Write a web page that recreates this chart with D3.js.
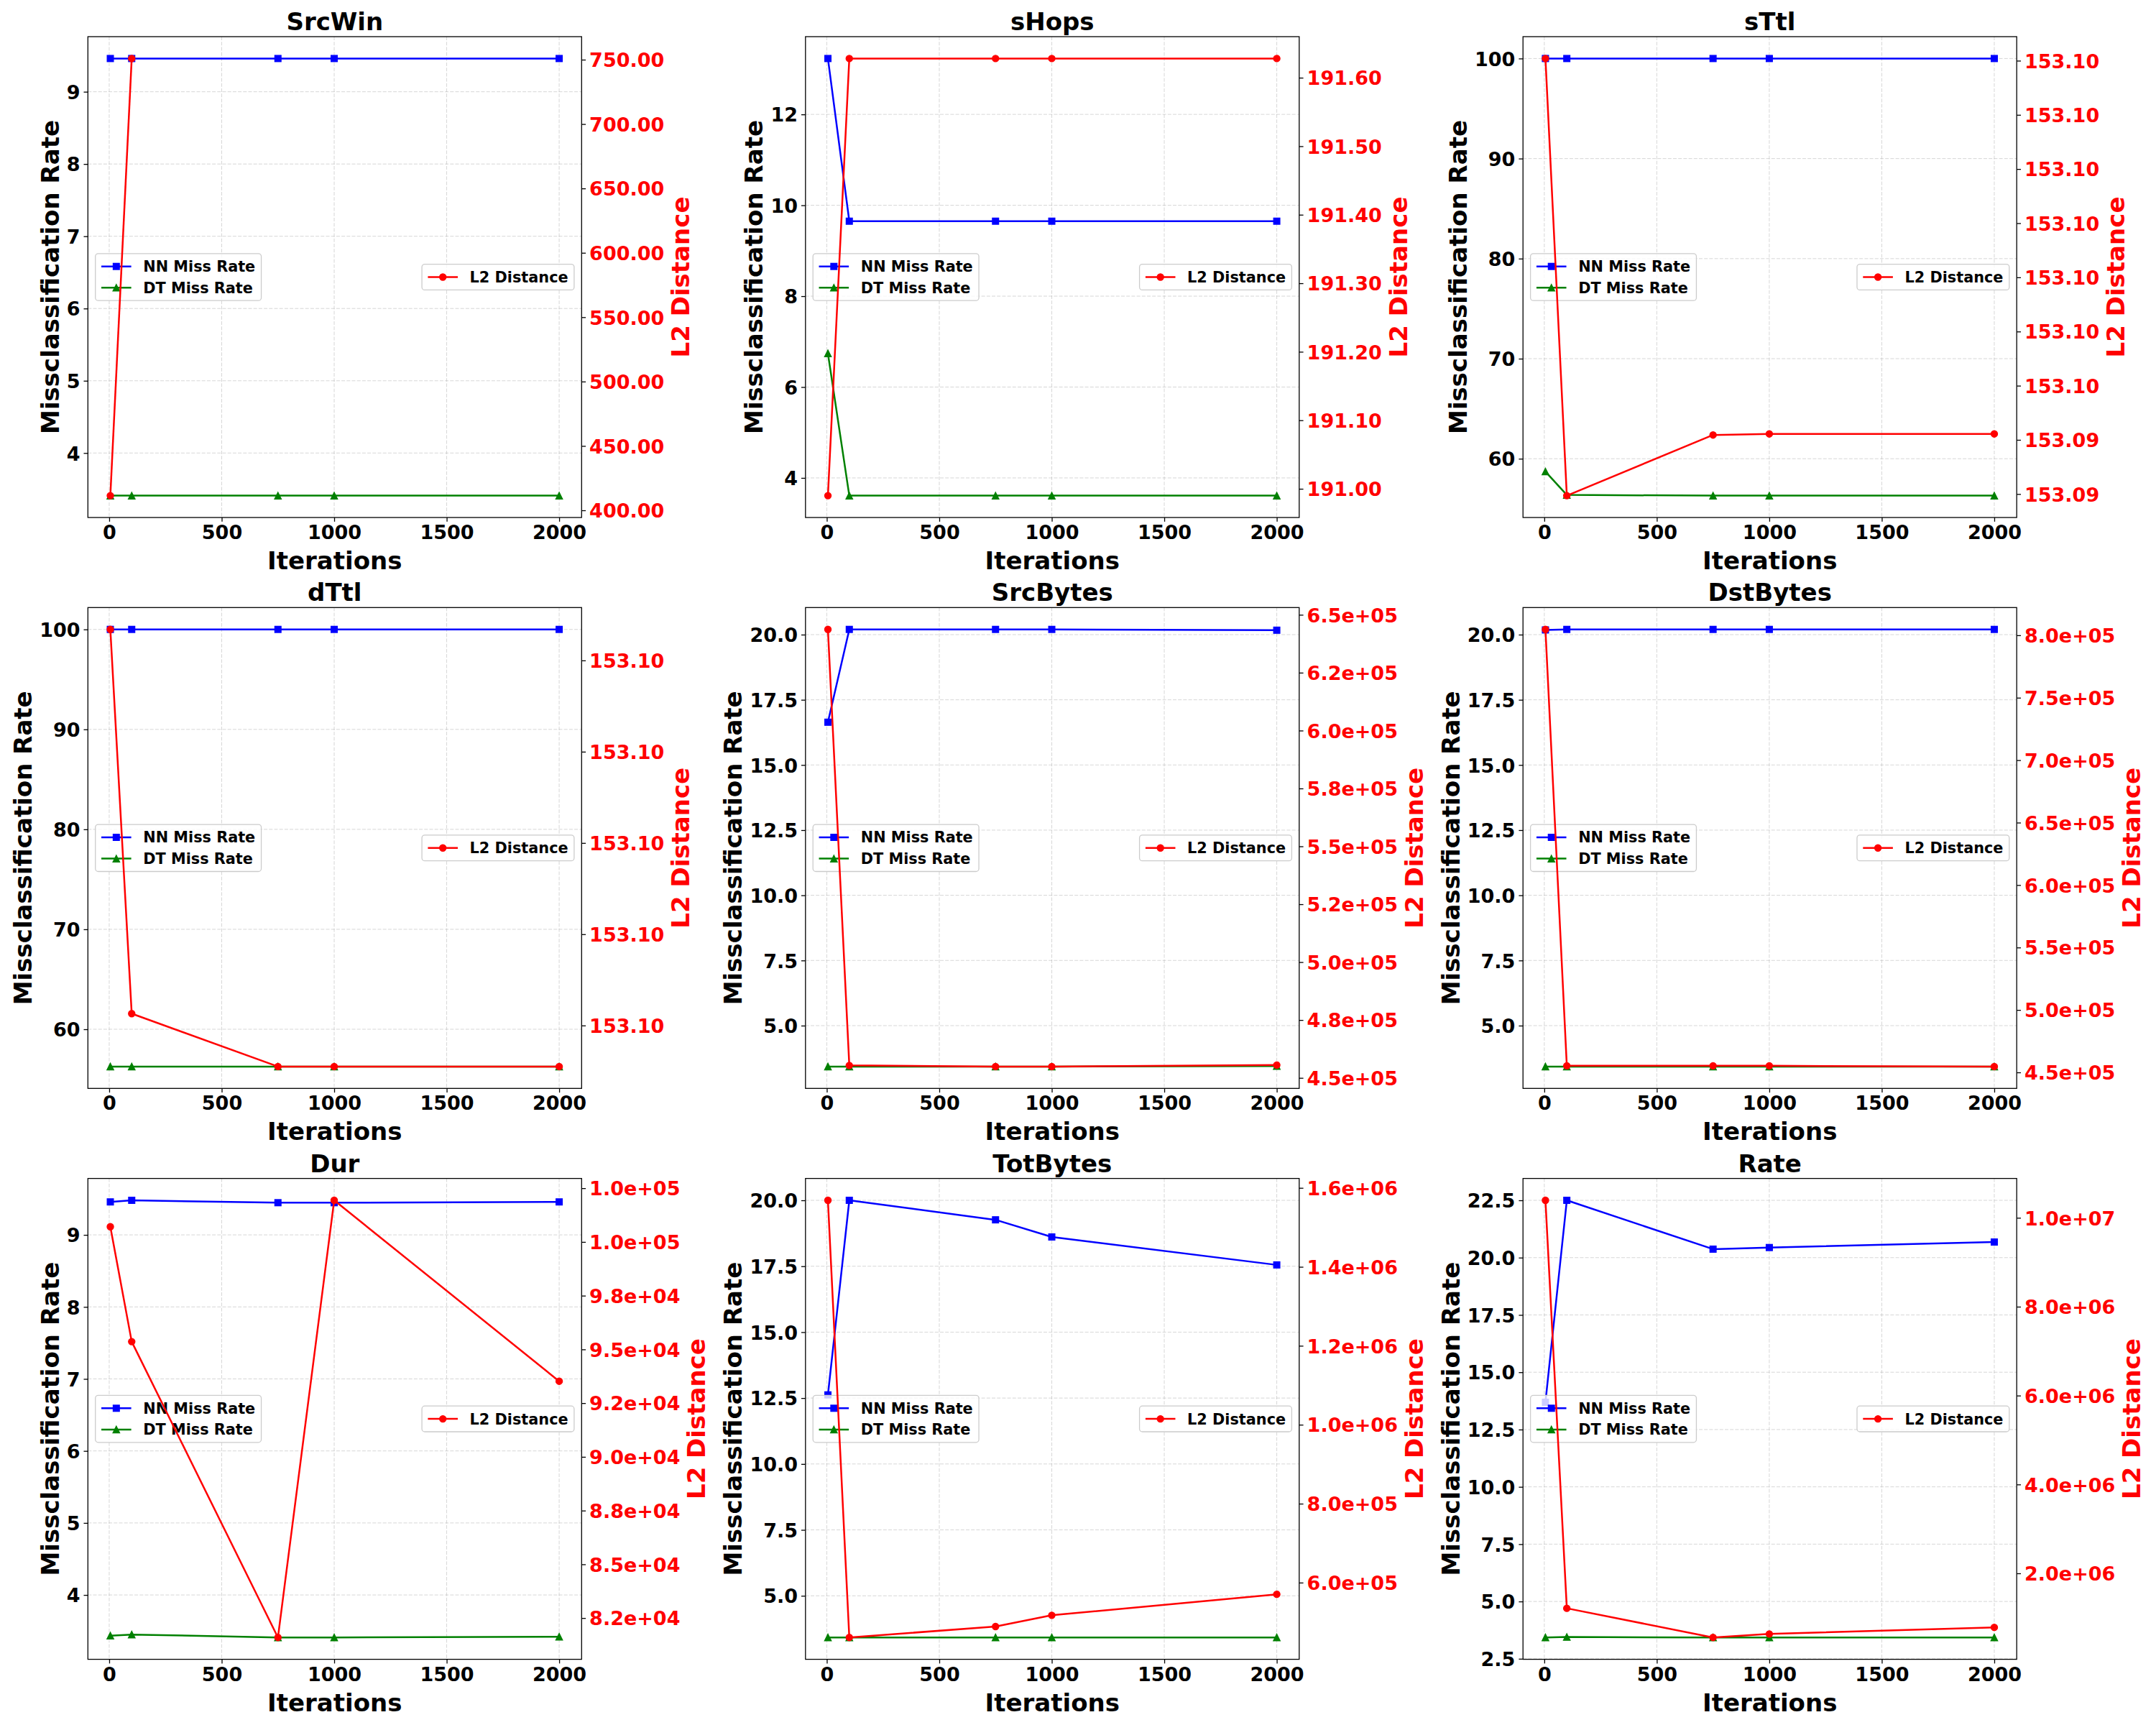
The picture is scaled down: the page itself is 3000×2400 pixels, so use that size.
<!DOCTYPE html>
<html><head><meta charset="utf-8">
<script src="https://cdn.jsdelivr.net/npm/d3@7"></script>
<style>body{margin:0;background:#fff}</style>
</head><body><svg id="c" width="3000" height="2400" xmlns="http://www.w3.org/2000/svg"></svg>
<script>
// ---------------- DATA ----------------
const iterations = [5, 100, 750, 1000, 2000];
const features = ["SrcWin", "sHops", "sTtl", "dTtl", "SrcBytes", "DstBytes", "Dur", "TotBytes", "Rate"];

const nnMiss = [
  [9.46, 9.46, 9.46, 9.46, 9.46],
  [13.23, 9.65, 9.65, 9.65, 9.65],
  [100, 100, 100, 100, 100],
  [100, 100, 100, 100, 100],
  [16.64, 20.2, 20.2, 20.2, 20.17],
  [20.18, 20.2, 20.2, 20.2, 20.2],
  [9.458, 9.48, 9.447, 9.447, 9.458],
  [12.62, 20.0, 19.26, 18.61, 17.55],
  [13.69, 22.5, 20.37, 20.44, 20.68]
];
const dtMiss = [
  [3.41, 3.41, 3.41, 3.41, 3.41],
  [6.74, 3.61, 3.61, 3.61, 3.61],
  [58.72, 56.38, 56.31, 56.31, 56.31],
  [56.27, 56.27, 56.27, 56.27, 56.27],
  [3.43, 3.43, 3.43, 3.43, 3.45],
  [3.43, 3.43, 3.43, 3.43, 3.43],
  [3.434, 3.45, 3.41, 3.41, 3.42],
  [3.42, 3.42, 3.42, 3.42, 3.42],
  [3.43, 3.45, 3.43, 3.43, 3.43]
];
const l2Dist = [
  [411.4, 750.9, null, null, null],
  [190.99, 191.628, 191.628, 191.628, 191.628],
  [153.10204, 153.09397, 153.09509, 153.09511, 153.09511],
  [153.10234, 153.09813, 153.09755, 153.09755, 153.09755],
  [643681, 455371, 454897, 454897, 455529],
  [804681, 455266, 455266, 455266, 454681],
  [100708, 95361, 81597, 101936, 93519],
  [1568473, 461084, 488670, 517241, 570443],
  [10393443, 1213115, 557377, 636066, 784700]
];

const xTicks = [0, 500, 1000, 1500, 2000];
const leftTicks = [
  [4, 5, 6, 7, 8, 9],
  [4, 6, 8, 10, 12],
  [60, 70, 80, 90, 100],
  [60, 70, 80, 90, 100],
  [5, 7.5, 10, 12.5, 15, 17.5, 20],
  [5, 7.5, 10, 12.5, 15, 17.5, 20],
  [4, 5, 6, 7, 8, 9],
  [5, 7.5, 10, 12.5, 15, 17.5, 20],
  [2.5, 5, 7.5, 10, 12.5, 15, 17.5, 20, 22.5]
];
const leftTickLabels = [
  ["4", "5", "6", "7", "8", "9"],
  ["4", "6", "8", "10", "12"],
  ["60", "70", "80", "90", "100"],
  ["60", "70", "80", "90", "100"],
  ["5.0", "7.5", "10.0", "12.5", "15.0", "17.5", "20.0"],
  ["5.0", "7.5", "10.0", "12.5", "15.0", "17.5", "20.0"],
  ["4", "5", "6", "7", "8", "9"],
  ["5.0", "7.5", "10.0", "12.5", "15.0", "17.5", "20.0"],
  ["2.5", "5.0", "7.5", "10.0", "12.5", "15.0", "17.5", "20.0", "22.5"]
];
const rightTicks = [
  [400, 450, 500, 550, 600, 650, 700, 750],
  [191.0, 191.1, 191.2, 191.3, 191.4, 191.5, 191.6],
  [153.094, 153.095, 153.096, 153.097, 153.098, 153.099, 153.100, 153.101, 153.102],
  [153.098, 153.099, 153.100, 153.101, 153.102],
  [450000, 475000, 500000, 525000, 550000, 575000, 600000, 625000, 650000],
  [450000, 500000, 550000, 600000, 650000, 700000, 750000, 800000],
  [82500, 85000, 87500, 90000, 92500, 95000, 97500, 100000, 102500],
  [600000, 800000, 1000000, 1200000, 1400000, 1600000],
  [2000000, 4000000, 6000000, 8000000, 10000000]
];
const rightTickLabels = [
  ["400.00", "450.00", "500.00", "550.00", "600.00", "650.00", "700.00", "750.00"],
  ["191.00", "191.10", "191.20", "191.30", "191.40", "191.50", "191.60"],
  ["153.09", "153.09", "153.10", "153.10", "153.10", "153.10", "153.10", "153.10", "153.10"],
  ["153.10", "153.10", "153.10", "153.10", "153.10"],
  ["4.5e+05", "4.8e+05", "5.0e+05", "5.2e+05", "5.5e+05", "5.8e+05", "6.0e+05", "6.2e+05", "6.5e+05"],
  ["4.5e+05", "5.0e+05", "5.5e+05", "6.0e+05", "6.5e+05", "7.0e+05", "7.5e+05", "8.0e+05"],
  ["8.2e+04", "8.5e+04", "8.8e+04", "9.0e+04", "9.2e+04", "9.5e+04", "9.8e+04", "1.0e+05", "1.0e+05"],
  ["6.0e+05", "8.0e+05", "1.0e+06", "1.2e+06", "1.4e+06", "1.6e+06"],
  ["2.0e+06", "4.0e+06", "6.0e+06", "8.0e+06", "1.0e+07"]
];
const seriesNames = ["NN Miss Rate", "DT Miss Rate", "L2 Distance"];
const colors = {nn: "#0000ff", dt: "#008000", l2: "#ff0000"};

// ---------------- LAYOUT ----------------
const colLeft = [122.3, 1120.8, 2119.2];
const rowTop = [51, 845.3, 1639.6];
const W = 687, H = 669;
const FONT = "'DejaVu Sans', 'Liberation Sans', sans-serif";
const tickFS = 27, labelFS = 34, titleFS = 34, legFS = 20.8;
const tickLen = 5.8, tickPad = 5;

const svg = d3.select("#c");
svg.append("rect").attr("width", 3000).attr("height", 2400).attr("fill", "#fff");

function padExt(ext) { const r = ext[1] - ext[0]; return [ext[0] - 0.05 * r, ext[1] + 0.05 * r]; }

function marker(sel, kind, color, cx, cy) {
  if (kind === "square") {
    sel.append("rect").attr("x", cx - 4.3).attr("y", cy - 4.3).attr("width", 8.6).attr("height", 8.6)
      .attr("fill", color).attr("stroke", color).attr("stroke-width", 1.4);
  } else if (kind === "tri") {
    const s = 4.6;
    sel.append("path").attr("d", `M${cx},${cy - s}L${cx - s},${cy + s}L${cx + s},${cy + s}Z`)
      .attr("fill", color).attr("stroke", color).attr("stroke-width", 1.4).attr("stroke-linejoin", "miter");
  } else {
    sel.append("circle").attr("cx", cx).attr("cy", cy).attr("r", 4.5)
      .attr("fill", color).attr("stroke", color).attr("stroke-width", 1.4);
  }
}

function drawLegend(g, items, side) {
  const bp = 0.4 * legFS, hl = 2 * legFS, htp = 0.8 * legFS, rowH = 19.2, ls = 0.5 * legFS;
  const lg = g.append("g");
  const frame = lg.append("rect");
  const texts = items.map(it => lg.append("text").text(it.name)
    .attr("font-family", FONT).attr("font-weight", "bold").attr("font-size", legFS).attr("fill", "#000"));
  const maxW = d3.max(texts, t => t.node().getComputedTextLength());
  const lw = bp + hl + htp + maxW + bp;
  const lh = 2 * bp + items.length * rowH + (items.length - 1) * ls;
  const lx = side === "left" ? 0.5 * legFS : W - 0.5 * legFS - lw;
  const ly = H / 2 - lh / 2;
  frame.attr("x", lx).attr("y", ly).attr("width", lw).attr("height", lh).attr("rx", 4)
    .attr("fill", "#fff").attr("fill-opacity", 0.8).attr("stroke", "#cccccc").attr("stroke-width", 1.3);
  items.forEach((it, k) => {
    const cy = ly + bp + rowH / 2 + k * (rowH + ls);
    lg.append("line").attr("x1", lx + bp).attr("x2", lx + bp + hl).attr("y1", cy).attr("y2", cy)
      .attr("stroke", it.color).attr("stroke-width", 2.5);
    marker(lg, it.kind, it.color, lx + bp + hl / 2, cy);
    texts[k].attr("x", lx + bp + hl + htp).attr("y", cy + 0.36 * legFS);
  });
}

features.forEach((name, i) => {
  const L = colLeft[i % 3], T = rowTop[Math.floor(i / 3)];
  const g = svg.append("g").attr("transform", `translate(${L},${T})`);

  const x = d3.scaleLinear().domain(padExt(d3.extent(iterations))).range([0, W]);
  const yL = d3.scaleLinear().domain(padExt(d3.extent([...nnMiss[i], ...dtMiss[i]]))).range([H, 0]);
  const yR = d3.scaleLinear().domain(padExt(d3.extent(l2Dist[i].filter(v => v != null)))).range([H, 0]);

  // grid
  const grid = g.append("g").attr("stroke", "#b0b0b0").attr("stroke-opacity", 0.5)
    .attr("stroke-width", 1.0).attr("stroke-dasharray", "5,2.2");
  xTicks.forEach(t => grid.append("line").attr("x1", x(t)).attr("x2", x(t)).attr("y1", 0).attr("y2", H));
  leftTicks[i].forEach(t => grid.append("line").attr("x1", 0).attr("x2", W).attr("y1", yL(t)).attr("y2", yL(t)));

  // primary series
  const pts = vals => iterations.map((it, k) => [it, vals[k]]);
  const mk = (vals, ys, color, kind) => {
    const data = pts(vals).filter(d => d[1] != null);
    g.append("path").datum(pts(vals))
      .attr("d", d3.line().defined(d => d[1] != null).x(d => x(d[0])).y(d => ys(d[1])))
      .attr("fill", "none").attr("stroke", color).attr("stroke-width", 2.5).attr("stroke-linejoin", "round");
    const mg = g.append("g");
    data.forEach(d => marker(mg, kind, color, x(d[0]), ys(d[1])));
  };
  mk(nnMiss[i], yL, colors.nn, "square");
  mk(dtMiss[i], yL, colors.dt, "tri");

  // axes
  const xAxis = g.append("g").attr("transform", `translate(0,${H})`)
    .call(d3.axisBottom(x).tickValues(xTicks).tickFormat(d3.format("d")).tickSize(tickLen).tickPadding(tickPad));
  const yAxisL = g.append("g")
    .call(d3.axisLeft(yL).tickValues(leftTicks[i]).tickFormat((d, j) => leftTickLabels[i][j]).tickSize(tickLen).tickPadding(tickPad));
  [xAxis, yAxisL].forEach(a => {
    a.select(".domain").remove();
    a.selectAll("line").attr("stroke", "#000").attr("stroke-width", 1.3);
    a.selectAll("text").attr("font-family", FONT).attr("font-weight", "bold").attr("font-size", tickFS).attr("fill", "#000");
  });
  yAxisL.selectAll("text").attr("dy", "0.36em");

  drawLegend(g, [
    {name: seriesNames[0], color: colors.nn, kind: "square"},
    {name: seriesNames[1], color: colors.dt, kind: "tri"}
  ], "left");

  // spines
  g.append("rect").attr("width", W).attr("height", H).attr("fill", "none").attr("stroke", "#000").attr("stroke-width", 1.3);

  // secondary series
  mk(l2Dist[i], yR, colors.l2, "circle");
  const yAxisR = g.append("g").attr("transform", `translate(${W},0)`)
    .call(d3.axisRight(yR).tickValues(rightTicks[i]).tickFormat((d, j) => rightTickLabels[i][j]).tickSize(tickLen).tickPadding(tickPad));
  yAxisR.select(".domain").remove();
  yAxisR.selectAll("line").attr("stroke", "#000").attr("stroke-width", 1.3);
  yAxisR.selectAll("text").attr("font-family", FONT).attr("font-weight", "bold").attr("font-size", tickFS)
    .attr("fill", colors.l2).attr("dy", "0.36em");

  drawLegend(g, [{name: seriesNames[2], color: colors.l2, kind: "circle"}], "right");

  // labels
  const maxLW = d3.max(yAxisL.selectAll("text").nodes(), n => n.getComputedTextLength());
  const maxRW = d3.max(yAxisR.selectAll("text").nodes(), n => n.getComputedTextLength());
  g.append("text").text("Missclassification Rate")
    .attr("transform", `translate(${-(tickLen + tickPad + maxLW + 11)},${H / 2}) rotate(-90)`)
    .attr("text-anchor", "middle").attr("font-family", FONT).attr("font-weight", "bold").attr("font-size", labelFS).attr("fill", "#000");
  g.append("text").text("L2 Distance")
    .attr("transform", `translate(${W + tickLen + tickPad + maxRW + 35},${H / 2}) rotate(-90)`)
    .attr("text-anchor", "middle").attr("font-family", FONT).attr("font-weight", "bold").attr("font-size", labelFS).attr("fill", colors.l2);
  g.append("text").text("Iterations").attr("x", W / 2).attr("y", H + 72)
    .attr("text-anchor", "middle").attr("font-family", FONT).attr("font-weight", "bold").attr("font-size", labelFS).attr("fill", "#000");
  g.append("text").text(name).attr("x", W / 2).attr("y", -9)
    .attr("text-anchor", "middle").attr("font-family", FONT).attr("font-weight", "bold").attr("font-size", titleFS).attr("fill", "#000");
});
</script>
</body></html>
